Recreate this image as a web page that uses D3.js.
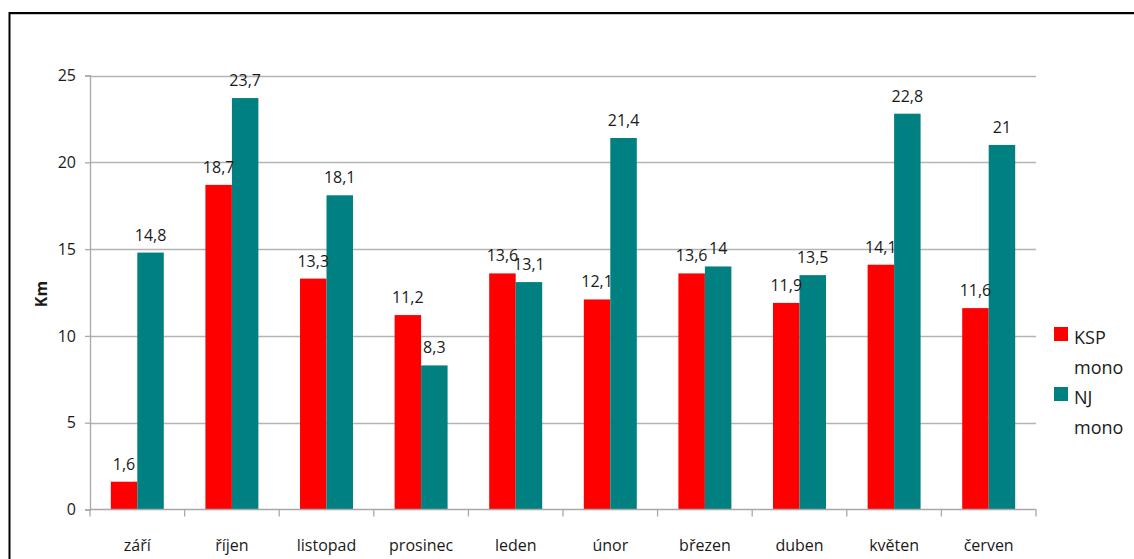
<!DOCTYPE html>
<html>
<head>
<meta charset="utf-8">
<script src="https://cdn.jsdelivr.net/npm/d3@7"></script>
<style>
  html, body { margin: 0; padding: 0; background: #fff; }
  svg { display: block; }
  text { font-family: "Open Sans", "Noto Sans", sans-serif; fill: #1a1a1a; }
</style>
</head>
<body>
<svg id="chart" width="1134" height="559"></svg>
<script>
// Monthly distances (km) per group
const months = ["září", "říjen", "listopad", "prosinec", "leden", "únor", "březen", "duben", "květen", "červen"];
const kspMono = [1.6, 18.7, 13.3, 11.2, 13.6, 12.1, 13.6, 11.9, 14.1, 11.6];
const njMono = [14.8, 23.7, 18.1, 8.3, 13.1, 21.4, 14, 13.5, 22.8, 21];
const seriesNames = ["KSP mono", "NJ mono"];
const seriesColors = ["#ff0000", "#008080"];
const yTicks = [0, 5, 10, 15, 20, 25];

const svg = d3.select("#chart");
const plot = { left: 90, right: 1036, top: 75.5, bottom: 509.5 };

// outer frame (top and left edges visible)
svg.append("line").attr("x1", 9.5).attr("x2", 1134).attr("y1", 14.5).attr("y2", 14.5)
  .attr("stroke", "#c8c8c8").attr("stroke-width", 1);
svg.append("path").attr("d", "M9.5,559V13H1134")
  .attr("fill", "none").attr("stroke", "#000").attr("stroke-width", 2);

const y = d3.scaleLinear().domain([0, 25]).range([plot.bottom, plot.top]);
const x0 = d3.scaleBand().domain(months).range([plot.left, plot.right]).padding(0);
const x1 = d3.scaleBand().domain(seriesNames)
  .range([0.22 * x0.bandwidth(), 0.78 * x0.bandwidth()]).padding(0);

// horizontal gridlines
svg.append("g").selectAll("line").data(yTicks.filter(d => d > 0)).join("line")
  .attr("x1", plot.left).attr("x2", plot.right)
  .attr("y1", d => Math.round(y(d)) + 0.5).attr("y2", d => Math.round(y(d)) + 0.5)
  .attr("stroke", "#b4b4b4").attr("stroke-width", 1.3);

// y axis
const yAxis = svg.append("g").attr("transform", `translate(${plot.left},0)`)
  .call(d3.axisLeft(y).tickValues(yTicks).tickSize(5).tickPadding(9).tickFormat(d3.format("d")));
yAxis.select(".domain").attr("stroke", "#a8a8a8").attr("stroke-width", 1.3);
yAxis.selectAll(".tick line").attr("stroke", "#a8a8a8").attr("stroke-width", 1.3);
yAxis.selectAll(".tick text").style("font-size", "16px").attr("fill", "#1a1a1a")
  .style("font-family", "'Open Sans', sans-serif");

// bars
const data = months.map((m, i) => ({ month: m, values: [kspMono[i], njMono[i]] }));
const groups = svg.append("g").selectAll("g").data(data).join("g")
  .attr("transform", d => `translate(${x0(d.month)},0)`);
groups.selectAll("rect").data(d => d.values.map((v, j) => ({ v, s: seriesNames[j], c: seriesColors[j] })))
  .join("rect")
  .attr("x", d => x1(d.s)).attr("width", x1.bandwidth())
  .attr("y", d => y(d.v)).attr("height", d => y(0) - y(d.v))
  .attr("fill", d => d.c);

// value labels
const fmt = v => String(v).replace(".", ",");
groups.selectAll("text.val").data(d => d.values.map((v, j) => ({ v, s: seriesNames[j] })))
  .join("text").attr("class", "val")
  .attr("x", d => x1(d.s) + x1.bandwidth() / 2)
  .attr("y", d => y(d.v) - 12)
  .attr("text-anchor", "middle").style("font-size", "16px")
  .text(d => fmt(d.v));

// x axis
const xAxis = svg.append("g").attr("transform", `translate(0,${plot.bottom})`);
xAxis.append("line").attr("x1", plot.left).attr("x2", plot.right).attr("y1", 0).attr("y2", 0)
  .attr("stroke", "#a8a8a8").attr("stroke-width", 1.3);
const bounds = months.map(m => x0(m)).concat([plot.right]);
xAxis.selectAll("line.tk").data(bounds).join("line").attr("class", "tk")
  .attr("x1", d => d).attr("x2", d => d).attr("y1", 0).attr("y2", 7)
  .attr("stroke", "#a8a8a8").attr("stroke-width", 1.3);
xAxis.selectAll("text").data(months).join("text")
  .attr("x", d => x0(d) + x0.bandwidth() / 2).attr("y", 41)
  .attr("text-anchor", "middle").style("font-size", "16px")
  .text(d => d);

// y axis title
svg.append("text").attr("transform", "translate(47,294) rotate(-90)")
  .attr("text-anchor", "middle").style("font-size", "16px").style("font-weight", "bold")
  .text("Km");

// legend
const legend = svg.append("g");
const legendRows = [[327, 344, 374], [387, 404, 434]];
seriesNames.forEach((name, i) => {
  const [sqY, l1, l2] = legendRows[i];
  const parts = name.split(" ");
  legend.append("rect").attr("x", 1054).attr("y", sqY).attr("width", 14).attr("height", 14)
    .attr("fill", seriesColors[i]);
  legend.append("text").attr("x", 1074).attr("y", l1).style("font-size", "18px").text(parts[0]);
  legend.append("text").attr("x", 1074).attr("y", l2).style("font-size", "18px").text(parts[1]);
});
</script>
</body>
</html>
